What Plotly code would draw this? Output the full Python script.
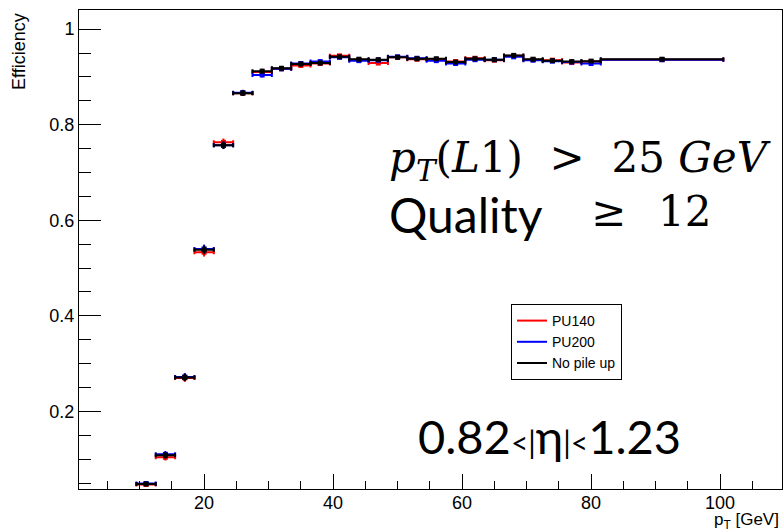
import plotly.graph_objects as go

# ---- data ----
pt_center = [11, 14, 17, 20, 23, 26, 29, 32, 35, 38, 41, 44, 47, 50, 53, 56, 59, 62, 65, 68, 71, 74, 77, 80, 91]
pt_halfwidth = [1.5, 1.5, 1.5, 1.5, 1.5, 1.5, 1.5, 1.5, 1.5, 1.5, 1.5, 1.5, 1.5, 1.5, 1.5, 1.5, 1.5, 1.5, 1.5, 1.5, 1.5, 1.5, 1.5, 1.5, 9.5]

eff_pu140 = [0.047, 0.104, 0.270, 0.533, 0.763, 0.866, 0.910, 0.917, 0.924, 0.928, 0.944, 0.936, 0.929, 0.941,
             0.937, 0.936, 0.932, 0.939, 0.935, 0.944, 0.936, 0.935, 0.930, 0.932, 0.936]
eff_pu200 = [0.049, 0.110, 0.272, 0.540, 0.757, 0.867, 0.904, 0.917, 0.928, 0.932, 0.941, 0.934, 0.935, 0.942,
             0.939, 0.934, 0.928, 0.936, 0.936, 0.942, 0.935, 0.933, 0.931, 0.928, 0.936]
eff_nopu = [0.048, 0.108, 0.271, 0.538, 0.757, 0.866, 0.912, 0.918, 0.927, 0.929, 0.942, 0.937, 0.936, 0.941,
            0.938, 0.938, 0.931, 0.938, 0.936, 0.945, 0.937, 0.934, 0.932, 0.933, 0.937]
eff_err = [0.005, 0.007, 0.008, 0.009, 0.008, 0.006, 0.005, 0.005, 0.005, 0.005, 0.004, 0.004, 0.004, 0.004,
           0.004, 0.004, 0.004, 0.004, 0.004, 0.004, 0.004, 0.004, 0.004, 0.004, 0.002]

series = [("PU140", eff_pu140, "#ff0000"), ("PU200", eff_pu200, "#0000ff"), ("No pile up", eff_nopu, "#000000")]

x_ticks = [20, 40, 60, 80, 100]
y_ticks = [0.2, 0.4, 0.6, 0.8, 1.0]
y_ticktext = ["0.2", "0.4", "0.6", "0.8", "1"]

fig = go.Figure()
for name, eff, col in series:
    fig.add_trace(go.Scatter(
        x=pt_center, y=eff, mode="markers", showlegend=False,
        marker=dict(symbol="square", size=5, color=col),
        error_x=dict(type="data", array=pt_halfwidth, color=col, thickness=2, width=2),
        error_y=dict(type="data", array=eff_err, color=col, thickness=2, width=0),
    ))
for name, eff, col in series:
    fig.add_trace(go.Scatter(x=[None], y=[None], mode="lines", name=name,
                             line=dict(color=col, width=2)))

SANS = "Liberation Sans, Arial, Helvetica, sans-serif"
axis_font = dict(family=SANS, size=18, color="black")
fig.update_layout(
    width=784, height=532,
    margin=dict(l=79, r=2, t=10, b=43),
    paper_bgcolor="white", plot_bgcolor="white",
    showlegend=True,
    legend=dict(x=(511 - 79) / 703, y=(489 - 304) / 479, xanchor="left", yanchor="top",
                bordercolor="black", borderwidth=1, bgcolor="white",
                font=dict(family=SANS, size=14, color="black"),
                itemwidth=30, tracegroupgap=0),
    xaxis=dict(range=[0.6, 109.6], tickvals=x_ticks, ticks="inside", ticklen=15, tickcolor="black",
               showline=True, linecolor="black", linewidth=1, mirror=True, showgrid=False, zeroline=False,
               tickfont=axis_font, ticklabelstandoff=-3,
               minor=dict(dtick=5, tick0=0, ticks="inside", ticklen=8, tickcolor="black", showgrid=False)),
    yaxis=dict(range=[0.0375, 1.04], tickvals=y_ticks, ticktext=y_ticktext, ticks="inside", ticklen=22,
               tickcolor="black", showline=True, linecolor="black", linewidth=1, mirror=True,
               showgrid=False, zeroline=False, tickfont=axis_font,
               minor=dict(dtick=0.05, tick0=0, ticks="inside", ticklen=12, tickcolor="black", showgrid=False)),
)

def px(xp):
    return (xp - 79) / 703

def py(yp):
    return (489 - yp) / 479

fig.add_annotation(text="Efficiency", xref="paper", yref="paper", x=px(19.5), y=py(11),
                   xanchor="center", yanchor="top", textangle=-90, showarrow=False,
                   font=dict(family=SANS, size=18, color="black"))
fig.add_annotation(text="p<sub>T</sub> [GeV]", xref="paper", yref="paper", x=px(781),
                   y=py(534), xanchor="right", yanchor="bottom", showarrow=False,
                   font=dict(family=SANS, size=17, color="black"))
fig.add_annotation(text="<i>p</i><sub><i>T</i></sub>(<i>L</i>1)  >  25 <i>GeV</i>", xref="paper", yref="paper",
                   x=px(387), y=py(160), xanchor="left", yanchor="middle", showarrow=False,
                   font=dict(family="DejaVu Serif, serif", size=42, color="black"))
fig.add_annotation(text="Quality", xref="paper", yref="paper",
                   x=px(387), y=py(214), xanchor="left", yanchor="middle", showarrow=False,
                   font=dict(family="Lato, sans-serif", size=48, color="black"))
fig.add_annotation(text="≥", xref="paper", yref="paper",
                   x=px(608), y=py(212), xanchor="center", yanchor="middle", showarrow=False,
                   font=dict(family="DejaVu Serif, serif", size=42, color="black"))
fig.add_annotation(text="12", xref="paper", yref="paper",
                   x=px(713), y=py(212), xanchor="right", yanchor="middle", showarrow=False,
                   font=dict(family="DejaVu Serif, serif", size=42, color="black"))
fig.add_annotation(text="0.82<span style='font-size:30px'>&lt;|</span>η<span style='font-size:30px'>|&lt;</span>1.23",
                   xref="paper", yref="paper",
                   x=px(416), y=py(436), xanchor="left", yanchor="middle", showarrow=False,
                   font=dict(family="Lato, sans-serif", size=47, color="black"))

fig.write_html("out.html")
